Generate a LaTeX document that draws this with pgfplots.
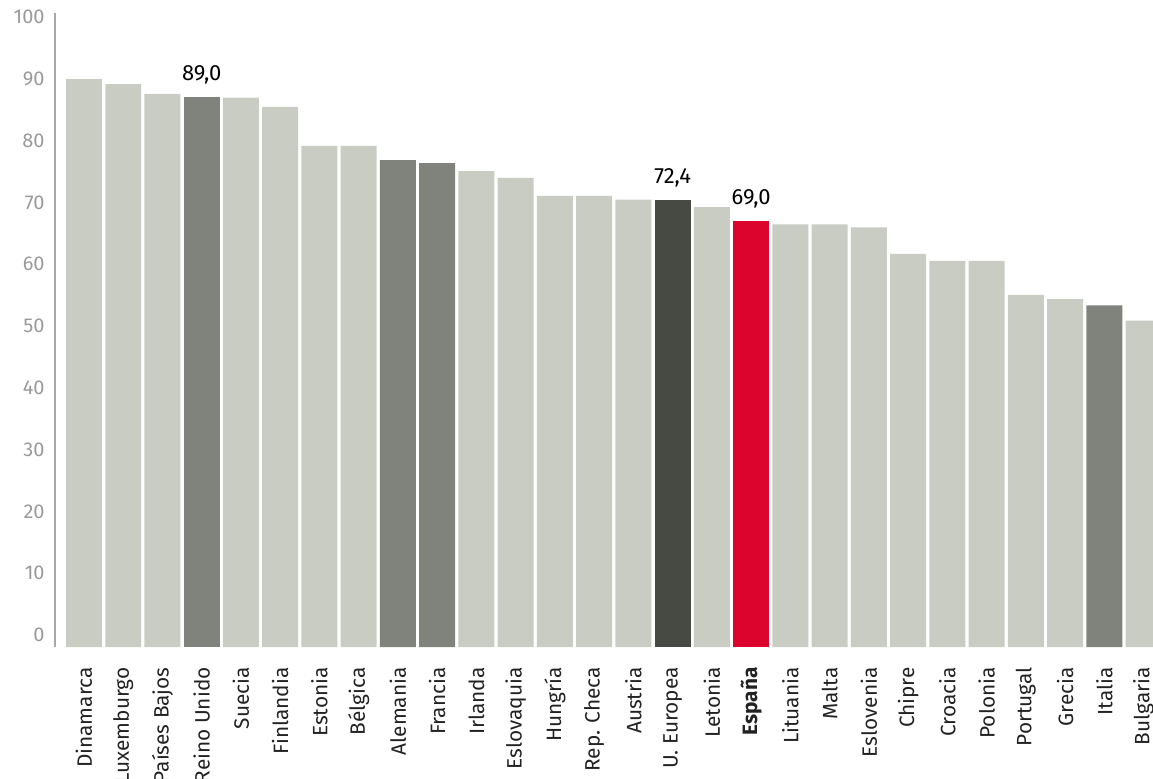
\documentclass[border=0pt]{standalone}
\usepackage{fontspec}
\setmainfont{Fira Sans}
\usepackage{pgfplots}
\pgfplotsset{compat=1.18}
\usetikzlibrary{calc}
\definecolor{cLight}{HTML}{C9CCC3}
\definecolor{cMid}{HTML}{80837B}
\definecolor{cDark}{HTML}{474A43}
\definecolor{cRed}{HTML}{DC042C}
\definecolor{cTick}{HTML}{9A9A9A}
\definecolor{cAxis}{HTML}{A8A8A8}
\definecolor{cText}{HTML}{222222}
\pgfplotstableread{
x v
0 91.9
1 91.1
2 89.5
4 88.9
5 87.4
6 81.1
7 81.1
10 77.0
11 75.9
12 73.0
13 73.0
14 72.4
16 71.2
18 68.4
19 68.4
20 67.9
21 63.6
22 62.5
23 62.5
24 57.0
25 56.3
27 52.8
}\light
\pgfplotstableread{
x v
8 78.8
9 78.3
26 55.3
}\mid
\begin{document}
\begin{tikzpicture}
\begin{axis}[name=ax, scale only axis, width=549pt, height=317pt,
  xmin=-0.739, xmax=27.24, ymin=0, ymax=102.6,
  axis lines=left,
  axis line style={-},
  x axis line style={draw=none},
  y axis line style={draw=cAxis, line width=0.6pt},
  major tick length=0pt, tick style={draw=none},
  ybar, bar width=0.917,
  /pgf/number format/assume math mode=true,
  ytick={0,10,...,100},
  yticklabel style={font=\fontsize{10}{12}\selectfont, text=cTick, anchor=east, inner sep=0pt, xshift=-5pt, yshift=6pt},
  xtick={0,...,27},
  xticklabels={Dinamarca,Luxemburgo,Países Bajos,Reino Unido,Suecia,Finlandia,Estonia,Bélgica,Alemania,Francia,Irlanda,Eslovaquia,Hungría,Rep. Checa,Austria,U. Europea,Letonia,\textbf{España},Lituania,Malta,Eslovenia,Chipre,Croacia,Polonia,Portugal,Grecia,Italia,Bulgaria},
  xticklabel style={font=\fontsize{10.4}{12}\selectfont, text=cText, rotate=90, anchor=east, inner sep=0pt},
  xticklabel shift=10pt,
  every node near coord/.append style={font=\fontsize{11}{13}\selectfont, text=black, anchor=south, inner sep=0pt, yshift=6pt},
]
\addplot[fill=cLight, draw=none, bar shift=0pt] table[x=x,y=v] {\light};
\addplot[fill=cMid, draw=none, bar shift=0pt] table[x=x,y=v] {\mid};
\addplot[fill=cMid, draw=none, bar shift=0pt, nodes near coords={\pgfmathprintnumber[fixed,fixed zerofill,precision=1,use comma,assume math mode=true]{\pgfplotspointmeta}}] coordinates {(3,89.0)};
\addplot[fill=cDark, draw=none, bar shift=0pt, nodes near coords={\pgfmathprintnumber[fixed,fixed zerofill,precision=1,use comma,assume math mode=true]{\pgfplotspointmeta}}] coordinates {(15,72.4)};
\addplot[fill=cRed, draw=none, bar shift=0pt, nodes near coords={\pgfmathprintnumber[fixed,fixed zerofill,precision=1,use comma,assume math mode=true]{\pgfplotspointmeta}}] coordinates {(17,69.0)};
\end{axis}
\pgfresetboundingbox
\path[use as bounding box] ($(ax.south west)+(-27.5pt,-65.5pt)$) rectangle ($(ax.north east)+(0pt,6.5pt)$);
\end{tikzpicture}
\end{document}
